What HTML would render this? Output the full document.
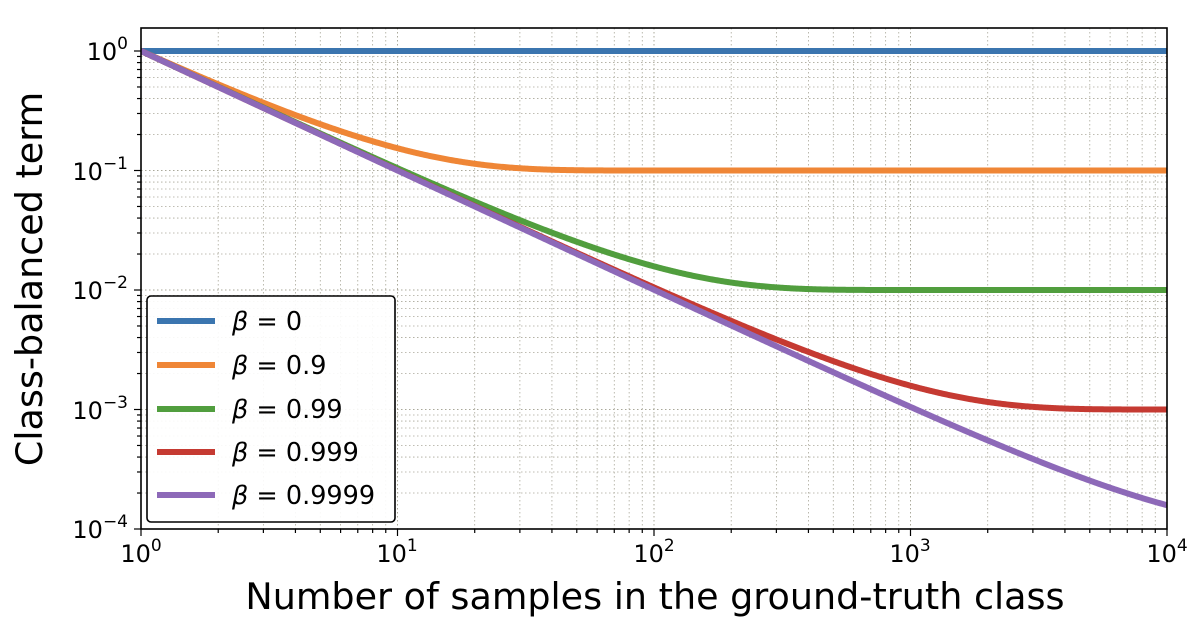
<!DOCTYPE html>
<html><head><meta charset="utf-8"><style>
html,body{margin:0;padding:0;background:#fff;}
svg{display:block;font-family:"DejaVu Sans","Liberation Sans",sans-serif;}
</style></head><body>
<svg id="s" width="1204" height="630" viewBox="0 0 1204 630" xmlns="http://www.w3.org/2000/svg">
<defs><clipPath id="c"><rect x="141" y="28" width="1026" height="501"/></clipPath></defs>
<g id="grid"></g>
<g id="curves" clip-path="url(#c)"></g>
<rect x="141" y="28" width="1026" height="501" fill="none" stroke="#000" stroke-width="1.6"/>
<g id="ticks"></g>
<g font-size="24" fill="#000">
<text x="128" y="60" text-anchor="end">10<tspan dy="-11" font-size="17">0</tspan></text>
<text x="128" y="180" text-anchor="end">10<tspan dy="-11" font-size="17">−1</tspan></text>
<text x="128" y="299" text-anchor="end">10<tspan dy="-11" font-size="17">−2</tspan></text>
<text x="128" y="419" text-anchor="end">10<tspan dy="-11" font-size="17">−3</tspan></text>
<text x="128" y="538" text-anchor="end">10<tspan dy="-11" font-size="17">−4</tspan></text>
<text x="141" y="562" text-anchor="middle">10<tspan dy="-11" font-size="17">0</tspan></text>
<text x="397" y="562" text-anchor="middle">10<tspan dy="-11" font-size="17">1</tspan></text>
<text x="654" y="562" text-anchor="middle">10<tspan dy="-11" font-size="17">2</tspan></text>
<text x="910" y="562" text-anchor="middle">10<tspan dy="-11" font-size="17">3</tspan></text>
<text x="1167" y="562" text-anchor="middle">10<tspan dy="-11" font-size="17">4</tspan></text>
</g>
<text x="655" y="609" font-size="36.5" text-anchor="middle">Number of samples in the ground-truth class</text>
<text transform="translate(42,279) rotate(-90)" font-size="36.5" text-anchor="middle">Class-balanced term</text>
<rect x="147" y="296" width="248" height="226" rx="4" fill="#fff" fill-opacity="0.9" stroke="#000" stroke-width="1.6"/>
<g stroke-width="6">
<line x1="157" y1="321" x2="215" y2="321" stroke="#3b75af"/>
<line x1="157" y1="365" x2="215" y2="365" stroke="#ef8636"/>
<line x1="157" y1="409" x2="215" y2="409" stroke="#519e3e"/>
<line x1="157" y1="452" x2="215" y2="452" stroke="#c53a32"/>
<line x1="157" y1="495" x2="215" y2="495" stroke="#8d69b8"/>
</g>
<g font-size="25.5">
<text x="232" y="330"><tspan font-style="italic">β</tspan> = 0</text>
<text x="232" y="374"><tspan font-style="italic">β</tspan> = 0.9</text>
<text x="232" y="418"><tspan font-style="italic">β</tspan> = 0.99</text>
<text x="232" y="461"><tspan font-style="italic">β</tspan> = 0.999</text>
<text x="232" y="504"><tspan font-style="italic">β</tspan> = 0.9999</text>
</g>
</svg>
<script>
const X0=141,DX=256.5,Y0=51,DY=119.5;
const X=v=>X0+Math.log10(v)*DX, Y=v=>Y0-Math.log10(v)*DY;
const ns="http://www.w3.org/2000/svg";
function el(p,t,a){const e=document.createElementNS(ns,t);for(const k in a)e.setAttribute(k,a[k]);p.appendChild(e);return e;}
const g=document.getElementById('grid'),tk=document.getElementById('ticks');
for(let d=0;d<4;d++)for(let m=1;m<10;m++){const x=X(m*Math.pow(10,d));
 if(x>141.5&&x<1166.5)el(g,'line',{x1:x,x2:x,y1:28,y2:529,stroke:'#aaa89a','stroke-width':m==1?1:0.8,'stroke-dasharray':'1.5,2.5'});
 el(tk,'line',{x1:x,x2:x,y1:529,y2:m==1?536:533,stroke:'#000','stroke-width':1.2});}
el(tk,'line',{x1:1167,x2:1167,y1:529,y2:536,stroke:'#000','stroke-width':1.2});
for(let d=-4;d<=0;d++)for(let m=1;m<10;m++){const v=m*Math.pow(10,d);const y=Y(v);if(y<28)continue;
 if(y>28.5&&y<528.5)el(g,'line',{x1:141,x2:1167,y1:y,y2:y,stroke:'#aaa89a','stroke-width':m==1?1:0.8,'stroke-dasharray':'1.5,2.5'});
 el(tk,'line',{x1:141,x2:m==1?134:137,y1:y,y2:y,stroke:'#000','stroke-width':1.2});}
const c=document.getElementById('curves');
const B=[[0,'#3b75af'],[0.9,'#ef8636'],[0.99,'#519e3e'],[0.999,'#c53a32'],[0.9999,'#8d69b8']];
for(const [b,col] of B){let p='';for(let i=0;i<=800;i++){const n=Math.pow(10,4*i/800);
 const v=b==0?1:(1-b)/(1-Math.pow(b,n));p+=(i?'L':'M')+X(n).toFixed(2)+','+Y(v).toFixed(2);}
 el(c,'path',{d:p,fill:'none',stroke:col,'stroke-width':6});}
</script>
</body></html>
